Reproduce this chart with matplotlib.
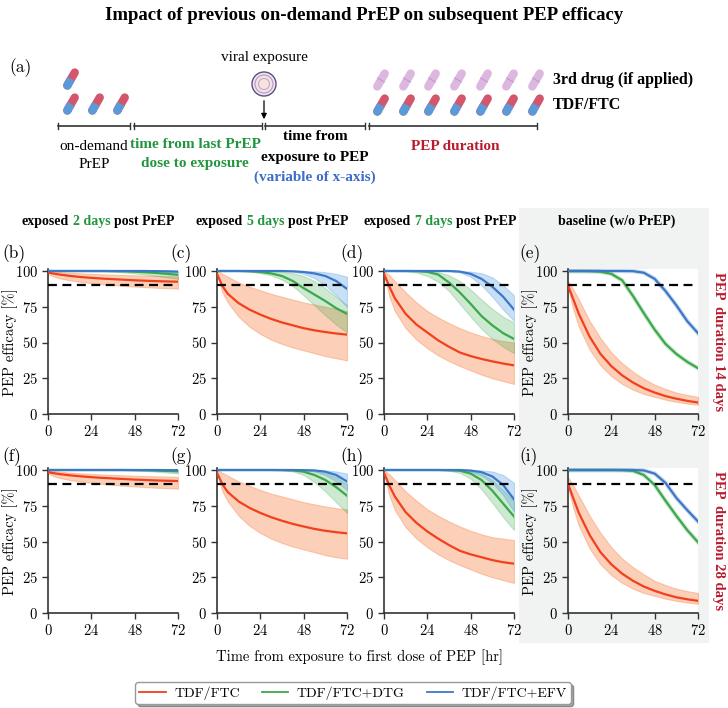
import matplotlib
matplotlib.use('Agg')
import matplotlib.pyplot as plt
from matplotlib.patches import Circle, Rectangle
from matplotlib.lines import Line2D
from matplotlib.ticker import FuncFormatter

plt.rcParams['font.family'] = ['Liberation Serif', 'DejaVu Serif']
plt.rcParams['mathtext.fontset'] = 'cm'
plt.rcParams['axes.formatter.use_mathtext'] = True

# time from exposure to first PEP dose [hr]
hours = [0, 3, 6, 12, 18, 24, 30, 36, 42, 48, 54, 60, 66, 72]

# (b) exposed 2 days post PrEP, PEP 14 days
tdf_b    = [99.0, 98.2, 97.6, 96.6, 95.8, 95.2, 94.7, 94.3, 93.9, 93.5, 93.2, 92.9, 92.7, 92.5]
tdf_b_lo = [98.0, 96.2, 95.0, 93.5, 92.4, 91.5, 90.8, 90.2, 89.6, 89.1, 88.7, 88.3, 88.0, 87.7]
tdf_b_hi = [100, 99.6, 99.3, 98.8, 98.4, 98.0, 97.7, 97.4, 97.2, 97.0, 96.8, 96.6, 96.4, 96.2]
dtg_b    = [100, 100, 100, 100, 100, 100, 100, 99.9, 99.8, 99.5, 99.1, 98.6, 98.0, 97.3]
dtg_b_lo = [100, 100, 100, 100, 100, 99.9, 99.8, 99.5, 99.0, 98.3, 97.5, 96.5, 95.5, 94.5]
dtg_b_hi = [100, 100, 100, 100, 100, 100, 100, 100, 100, 100, 99.9, 99.8, 99.6, 99.4]
efv_b    = [100, 100, 100, 100, 100, 100, 100, 100, 100, 100, 100, 99.9, 99.8, 99.6]
efv_b_lo = [100, 100, 100, 100, 100, 100, 100, 100, 99.9, 99.8, 99.6, 99.4, 99.1, 98.8]
efv_b_hi = [100, 100, 100, 100, 100, 100, 100, 100, 100, 100, 100, 100, 100, 100]

# (c) exposed 5 days post PrEP, PEP 14 days
tdf_c    = [98.0, 89.5, 84.0, 77.5, 73.0, 69.5, 66.5, 64.0, 62.0, 60.0, 58.5, 57.3, 56.3, 55.5]
tdf_c_lo = [98.0, 85.0, 78.0, 68.0, 61.0, 56.0, 52.0, 49.0, 46.5, 44.5, 42.5, 40.5, 39.0, 37.5]
tdf_c_hi = [100, 98.0, 96.0, 92.0, 89.0, 86.5, 84.0, 82.0, 80.0, 78.0, 76.5, 75.0, 73.5, 72.0]
dtg_c    = [100, 100, 100, 100, 99.8, 99.3, 98.3, 96.5, 93.0, 88.0, 83.5, 79.0, 74.0, 70.0]
dtg_c_lo = [100, 100, 100, 100, 99.5, 98.5, 97.0, 94.0, 89.5, 83.0, 76.0, 69.0, 62.5, 57.0]
dtg_c_hi = [100, 100, 100, 100, 100, 100, 99.8, 99.4, 98.5, 96.5, 93.0, 88.0, 82.0, 76.0]
efv_c    = [100, 100, 100, 100, 100, 100, 100, 100, 99.8, 99.3, 98.3, 96.5, 93.0, 87.5]
efv_c_lo = [100, 100, 100, 100, 100, 100, 100, 99.9, 99.5, 98.0, 95.0, 90.0, 83.0, 75.0]
efv_c_hi = [100, 100, 100, 100, 100, 100, 100, 100, 100, 99.9, 99.8, 99.2, 98.0, 96.0]

# (d) exposed 7 days post PrEP, PEP 14 days
tdf_d    = [98.0, 89.0, 81.0, 70.0, 62.5, 57.0, 51.5, 47.0, 43.0, 40.5, 38.5, 36.8, 35.3, 34.0]
tdf_d_lo = [98.0, 82.0, 72.0, 60.0, 52.0, 46.0, 41.0, 37.0, 33.5, 30.5, 27.5, 25.0, 23.0, 21.0]
tdf_d_hi = [100, 97.0, 93.0, 85.0, 78.0, 72.0, 67.5, 63.5, 60.0, 57.0, 54.5, 52.5, 51.0, 50.0]
dtg_d    = [100, 100, 100, 100, 99.9, 99.4, 97.5, 92.0, 85.0, 77.0, 68.5, 62.0, 56.5, 52.5]
dtg_d_lo = [100, 100, 100, 99.8, 99.0, 96.5, 92.5, 86.0, 77.0, 68.0, 59.5, 52.5, 47.0, 42.5]
dtg_d_hi = [100, 100, 100, 100, 100, 99.9, 99.3, 97.0, 93.0, 87.0, 80.0, 73.5, 68.0, 64.0]
efv_d    = [100, 100, 100, 100, 100, 100, 100, 100, 99.6, 98.0, 94.5, 89.0, 82.0, 73.0]
efv_d_lo = [100, 100, 100, 100, 100, 100, 100, 99.8, 99.0, 96.0, 90.0, 82.0, 73.0, 65.0]
efv_d_hi = [100, 100, 100, 100, 100, 100, 100, 100, 99.9, 99.6, 98.5, 95.5, 90.0, 83.0]

# (e) baseline without PrEP, PEP 14 days
tdf_e    = [90.0, 80.0, 70.0, 54.0, 42.0, 33.5, 27.0, 22.0, 18.0, 15.0, 12.5, 10.7, 9.2, 8.0]
tdf_e_lo = [88.0, 73.0, 61.0, 45.0, 34.0, 26.5, 21.0, 17.0, 14.0, 12.0, 10.0, 8.5, 7.3, 6.5]
tdf_e_hi = [93.0, 87.0, 80.0, 65.0, 53.0, 43.0, 35.5, 29.5, 24.5, 20.5, 17.5, 15.0, 13.3, 12.0]
dtg_e    = [100, 100, 100, 99.9, 99.5, 98.0, 93.5, 82.5, 70.5, 59.0, 49.0, 42.0, 36.5, 32.0]
efv_e    = [100, 100, 100, 100, 100, 100, 100, 99.9, 98.8, 94.5, 86.0, 76.0, 65.0, 56.5]

# (f) exposed 2 days post PrEP, PEP 28 days
tdf_f    = [98.5, 97.8, 97.2, 96.3, 95.6, 95.0, 94.5, 94.1, 93.7, 93.3, 93.0, 92.7, 92.5, 92.3]
tdf_f_lo = [97.5, 95.8, 94.6, 93.0, 91.9, 91.0, 90.3, 89.6, 89.0, 88.5, 88.0, 87.6, 87.3, 87.0]
tdf_f_hi = [99.8, 99.3, 98.9, 98.2, 97.7, 97.3, 96.9, 96.6, 96.3, 96.0, 95.8, 95.6, 95.4, 95.3]
dtg_f    = [100, 100, 100, 100, 100, 100, 100, 100, 100, 99.9, 99.8, 99.6, 99.3, 99.0]
dtg_f_lo = [100, 100, 100, 100, 100, 100, 100, 99.9, 99.8, 99.6, 99.3, 98.8, 98.2, 97.5]
dtg_f_hi = [100, 100, 100, 100, 100, 100, 100, 100, 100, 100, 100, 100, 99.9, 99.8]
efv_f    = [100, 100, 100, 100, 100, 100, 100, 100, 100, 100, 100, 100, 99.9, 99.9]
efv_f_lo = [100, 100, 100, 100, 100, 100, 100, 100, 100, 99.9, 99.9, 99.8, 99.7, 99.5]
efv_f_hi = [100, 100, 100, 100, 100, 100, 100, 100, 100, 100, 100, 100, 100, 100]

# (g) exposed 5 days post PrEP, PEP 28 days
tdf_g    = [98.0, 90.0, 84.5, 78.0, 73.5, 70.0, 67.0, 64.5, 62.3, 60.5, 58.8, 57.5, 56.5, 55.7]
tdf_g_lo = [98.0, 85.0, 78.0, 68.0, 61.0, 56.0, 52.0, 49.0, 46.5, 44.5, 42.5, 40.5, 39.0, 38.0]
tdf_g_hi = [100, 98.0, 96.0, 92.0, 89.0, 86.0, 83.5, 81.5, 79.5, 77.5, 76.0, 74.5, 73.3, 72.5]
dtg_g    = [100, 100, 100, 100, 100, 100, 100, 99.9, 99.7, 98.8, 96.5, 93.0, 88.0, 82.0]
dtg_g_lo = [100, 100, 100, 100, 100, 100, 99.9, 99.7, 99.0, 96.5, 91.5, 85.0, 77.5, 70.0]
dtg_g_hi = [100, 100, 100, 100, 100, 100, 100, 100, 100, 99.8, 99.2, 97.8, 95.0, 90.0]
efv_g    = [100, 100, 100, 100, 100, 100, 100, 100, 100, 99.9, 99.7, 98.8, 96.5, 92.0]
efv_g_lo = [100, 100, 100, 100, 100, 100, 100, 100, 99.9, 99.8, 99.0, 96.5, 92.0, 86.0]
efv_g_hi = [100, 100, 100, 100, 100, 100, 100, 100, 100, 100, 100, 99.7, 99.0, 97.5]

# (h) exposed 7 days post PrEP, PEP 28 days
tdf_h    = [98.0, 89.0, 81.5, 70.5, 63.0, 57.0, 52.0, 47.5, 43.5, 41.0, 39.0, 37.0, 35.5, 34.5]
tdf_h_lo = [98.0, 82.0, 72.0, 60.0, 52.0, 46.0, 41.0, 37.0, 33.5, 30.5, 27.5, 25.0, 23.0, 21.0]
tdf_h_hi = [100, 97.0, 93.0, 85.0, 78.5, 72.5, 68.0, 64.0, 60.5, 57.5, 55.0, 53.0, 52.0, 51.0]
dtg_h    = [100, 100, 100, 100, 100, 100, 100, 99.8, 99.5, 97.5, 93.0, 85.5, 76.5, 67.5]
dtg_h_lo = [100, 100, 100, 100, 100, 100, 99.9, 99.5, 98.0, 94.0, 86.5, 77.0, 67.0, 58.0]
dtg_h_hi = [100, 100, 100, 100, 100, 100, 100, 100, 99.9, 99.3, 97.5, 93.0, 86.0, 78.0]
efv_h    = [100, 100, 100, 100, 100, 100, 100, 100, 100, 99.6, 98.5, 95.5, 89.5, 79.5]
efv_h_lo = [100, 100, 100, 100, 100, 100, 100, 100, 99.9, 98.8, 96.0, 91.0, 82.5, 71.0]
efv_h_hi = [100, 100, 100, 100, 100, 100, 100, 100, 100, 100, 99.7, 99.0, 96.5, 91.0]

# (i) baseline without PrEP, PEP 28 days
tdf_i    = [90.5, 80.0, 70.0, 54.5, 42.5, 34.0, 27.5, 22.5, 18.5, 15.5, 13.0, 11.0, 9.6, 8.5]
tdf_i_lo = [88.0, 73.0, 61.0, 45.0, 34.0, 26.5, 21.0, 17.0, 14.0, 12.0, 10.0, 8.5, 7.3, 6.5]
tdf_i_hi = [95.0, 89.0, 82.0, 68.0, 56.0, 46.0, 38.0, 32.0, 27.0, 22.5, 19.5, 17.0, 15.3, 14.0]
dtg_i    = [100, 100, 100, 100, 100, 100, 99.9, 99.4, 96.5, 89.5, 78.5, 68.0, 58.0, 49.5]
efv_i    = [100, 100, 100, 100, 100, 100, 100, 100, 99.7, 97.5, 91.0, 80.5, 72.0, 64.0]

threshold = 90
drug_labels = ['TDF/FTC', 'TDF/FTC+DTG', 'TDF/FTC+EFV']
col_days = ['2', '5', '7']
pep_durations = ['14', '28']

RED, GREEN, BLUE = '#f2401c', '#3aa84b', '#3b78c7'
BAND = {RED: ('#f9874f', 0.4), GREEN: ('#3aa84b', 0.25), BLUE: ('#4a98e0', 0.3)}
GREEN_TXT, BLUE_TXT, RED_TXT = '#22963f', '#3d6cc9', '#b81c2e'

panels = [
    ('b', 0, 0, [(tdf_b, tdf_b_lo, tdf_b_hi), (dtg_b, dtg_b_lo, dtg_b_hi), (efv_b, efv_b_lo, efv_b_hi)]),
    ('c', 0, 1, [(tdf_c, tdf_c_lo, tdf_c_hi), (dtg_c, dtg_c_lo, dtg_c_hi), (efv_c, efv_c_lo, efv_c_hi)]),
    ('d', 0, 2, [(tdf_d, tdf_d_lo, tdf_d_hi), (dtg_d, dtg_d_lo, dtg_d_hi), (efv_d, efv_d_lo, efv_d_hi)]),
    ('e', 0, 3, [(tdf_e, tdf_e_lo, tdf_e_hi), (dtg_e, None, None), (efv_e, None, None)]),
    ('f', 1, 0, [(tdf_f, tdf_f_lo, tdf_f_hi), (dtg_f, dtg_f_lo, dtg_f_hi), (efv_f, efv_f_lo, efv_f_hi)]),
    ('g', 1, 1, [(tdf_g, tdf_g_lo, tdf_g_hi), (dtg_g, dtg_g_lo, dtg_g_hi), (efv_g, efv_g_lo, efv_g_hi)]),
    ('h', 1, 2, [(tdf_h, tdf_h_lo, tdf_h_hi), (dtg_h, dtg_h_lo, dtg_h_hi), (efv_h, efv_h_lo, efv_h_hi)]),
    ('i', 1, 3, [(tdf_i, tdf_i_lo, tdf_i_hi), (dtg_i, None, None), (efv_i, None, None)]),
]

W, H = 728, 708
fig = plt.figure(figsize=(W / 100, H / 100), dpi=100)

# overlay axes in pixel coordinates (origin top-left) for the schematic and labels
ax0 = fig.add_axes([0, 0, 1, 1])
ax0.set_xlim(0, W)
ax0.set_ylim(H, 0)
ax0.axis('off')

# grey background for the baseline column
ax0.add_patch(Rectangle((519, 208), 190, 435, fc='#f1f3f3', ec='none', zorder=0))

renderer = fig.canvas.get_renderer()


def text_width(s, **kw):
    t = ax0.text(0, 0, s, **kw)
    w = t.get_window_extent(renderer).width
    t.remove()
    return w


def rich_text(xc, y, parts, **kw):
    # centred line of text made of differently coloured pieces
    gap = text_width('a a', **kw) - text_width('aa', **kw)
    widths = [text_width(s, **kw) for s, c in parts]
    x = xc - (sum(widths) + gap * (len(parts) - 1)) / 2
    for (s, c), w in zip(parts, widths):
        ax0.text(x, y, s, color=c, ha='left', va='baseline', **kw)
        x += w + gap


# ---- title and schematic (a)
ax0.text(364, 16, 'Impact of previous on-demand PrEP on subsequent PEP efficacy',
         ha='center', va='center', fontsize=13.5, fontweight='bold')
ax0.text(9, 68, '(a)', fontfamily='cmr10', fontsize=12.5, va='center')


def pill(x, y, top, bottom, L=15, w=6.0):
    dx, dy = 0.5 * L / 2, -0.866 * L / 2
    ax0.plot([x - dx, x + dx], [y - dy, y + dy], color=top, lw=w, solid_capstyle='round')
    if bottom is not None:
        ax0.plot([x - dx, x], [y - dy, y], color=bottom, lw=w, solid_capstyle='butt')
        ax0.plot([x - dx], [y - dy], 'o', color=bottom, ms=w, mew=0)
    else:
        ax0.plot([x - 3.4, x + 3.4], [y - 2.0, y + 2.0], color='#c48fcf', lw=0.7)


PILL_RED, PILL_BLUE, PILL_PURPLE = '#d3566c', '#5b9ad8', '#dcb8e0'
pill(71, 79, PILL_RED, PILL_BLUE)
for px in [71, 96, 121]:
    pill(px, 104, PILL_RED, PILL_BLUE)
for px in [381, 407, 432, 458, 484, 510, 536]:
    pill(px, 80, PILL_PURPLE, None)
    pill(px, 105, PILL_RED, PILL_BLUE)

ax0.text(553, 80, '3rd drug (if applied)', fontsize=11.5, fontweight='bold', va='center')
ax0.text(553, 105, 'TDF/FTC', fontsize=11.5, fontweight='bold', va='center')

# virus and exposure arrow
ax0.add_patch(Circle((264, 84), 12, fc='#efe4ef', ec='#5d4e80', lw=1.0))
ax0.add_patch(Circle((264, 84), 9, fc='none', ec='#b49ab8', lw=0.8))
ax0.add_patch(Circle((264, 84), 5.5, fc='#f5e2e2', ec='#c9a0a8', lw=0.7))
ax0.text(264, 57, 'viral exposure', ha='center', va='center', fontsize=11)
ax0.annotate('', xy=(264, 122), xytext=(264, 98),
             arrowprops=dict(arrowstyle='-|>', color='k', lw=0.9, mutation_scale=8))

# timeline
for x0, x1 in [(58, 130), (134, 262), (265, 365), (369, 537)]:
    ax0.plot([x0, x1], [126, 126], color='#333333', lw=1.2)
    ax0.plot([x0, x0], [123, 129], color='#333333', lw=1.0)
    ax0.plot([x1, x1], [123, 129], color='#333333', lw=1.0)

ax0.text(94, 147, 'on-demand', ha='center', va='center', fontsize=11)
ax0.text(94, 165, 'PrEP', ha='center', va='center', fontsize=11)
ax0.text(195, 145, 'time from last PrEP', ha='center', va='center', fontsize=11,
         fontweight='bold', color=GREEN_TXT)
ax0.text(195, 164, 'dose to exposure', ha='center', va='center', fontsize=11,
         fontweight='bold', color=GREEN_TXT)
ax0.text(315, 137, 'time from', ha='center', va='center', fontsize=11, fontweight='bold')
ax0.text(315, 157, 'exposure to PEP', ha='center', va='center', fontsize=11, fontweight='bold')
ax0.text(315, 177, '(variable of x-axis)', ha='center', va='center', fontsize=11,
         fontweight='bold', color=BLUE_TXT)
ax0.text(455, 146, 'PEP duration', ha='center', va='center', fontsize=11,
         fontweight='bold', color=RED_TXT)

# ---- column titles
title_x = [98, 272, 440]
for xc, d in zip(title_x, col_days):
    rich_text(xc, 225, [('exposed', 'k'), (d + ' days', GREEN_TXT), ('post PrEP', 'k')],
              fontsize=10, fontweight='bold')
ax0.text(617, 221, 'baseline (w/o PrEP)', ha='center', va='center', fontsize=10,
         fontweight='bold')

# row labels
row_center = [342, 541]
for yc, d in zip(row_center, pep_durations):
    ax0.text(719, yc, 'PEP  duration ' + d + ' days', rotation=270, ha='center', va='center',
             fontsize=10.5, fontweight='bold', color=RED_TXT)

# ---- panels
col_x = [48, 217, 384, 568]
row_bottom = [414, 613]
ax_w = 130
ax_h = 143 * 1.015
label_x = [2, 170, 340, 519]
label_y = [254, 457]

fmt = FuncFormatter(lambda v, p: '$%d$' % v)
handles = []
for name, r, c, series in panels:
    ax = fig.add_axes([col_x[c] / W, 1 - row_bottom[r] / H, ax_w / W, ax_h / H])
    for (mean, lo, hi), colr in zip(series, [RED, GREEN, BLUE]):
        if lo is not None:
            fc, a = BAND[colr]
            ax.fill_between(hours, lo, hi, color=fc, alpha=a, lw=0.8, zorder=2)
        else:
            ax.plot(hours, mean, color=colr, lw=3.2, alpha=0.25, zorder=2)
        ln, = ax.plot(hours, mean, color=colr, lw=1.6, zorder=3)
        if name == 'b':
            handles.append(ln)
    ax.axhline(threshold, color='k', lw=1.6, ls=(0, (4, 2.5)), zorder=4)
    ax.set_xlim(0, 72)
    ax.set_ylim(0, 101.5)
    ax.set_xticks([0, 24, 48, 72])
    ax.set_yticks([0, 25, 50, 75, 100])
    ax.xaxis.set_major_formatter(fmt)
    ax.yaxis.set_major_formatter(fmt)
    ax.tick_params(direction='out', length=4, width=1, color='#333333', labelsize=10.5, pad=3)
    for s in ['top', 'right']:
        ax.spines[s].set_visible(False)
    for s in ['left', 'bottom']:
        ax.spines[s].set_color('#333333')
        ax.spines[s].set_linewidth(1.2)
    ax0.text(label_x[c], label_y[r], '(%s)' % name, fontfamily='cmr10', fontsize=12.5,
             va='center')
    if c in (0, 3):
        yl_x = 10 if c == 0 else 530
        ax0.text(yl_x, row_center[r], 'PEP efficacy [%]', fontfamily='cmr10', fontsize=10.5,
                 rotation=90, ha='center', va='center')

ax0.text(360, 657, 'Time from exposure to first dose of PEP [hr]', fontfamily='cmr10',
         fontsize=10.5, ha='center', va='center')

leg_lines = [Line2D([], [], color=h.get_color(), lw=1.3) for h in handles]
fig.legend(leg_lines, drug_labels, loc='center', bbox_to_anchor=(353 / W, 1 - 693 / H),
           ncol=3, prop={'family': 'cmr10', 'size': 10}, frameon=True, shadow=True,
           fancybox=True, edgecolor='#999999', framealpha=1, handlelength=1.9,
           handletextpad=0.6, columnspacing=1.6, borderpad=0.3)

fig.savefig('out.png', dpi=100)
